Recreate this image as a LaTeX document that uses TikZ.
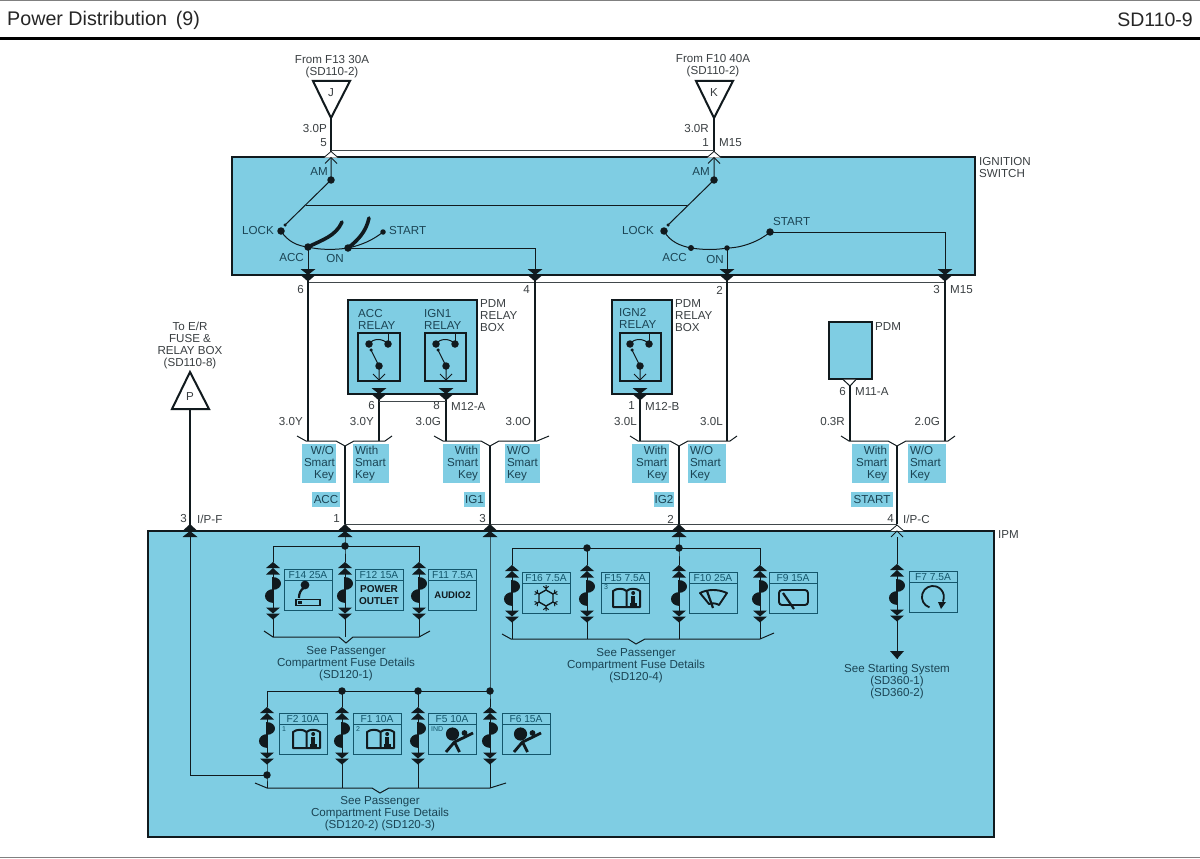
\documentclass[tikz,border=0pt]{standalone}
\usepackage{fontspec}
\setmainfont{Liberation Sans}
\definecolor{panel}{HTML}{7FCDE3}
\definecolor{ink}{HTML}{111A1E}
\definecolor{txt}{HTML}{3A3F42}
\definecolor{btxt}{HTML}{1B4454}
\definecolor{cellc}{HTML}{14566B}
\tikzset{
  lbl/.style={text=txt,inner sep=0pt,font=\fontsize{11.6}{12}\selectfont,align=center},
  blbl/.style={lbl,text=btxt},
  panelbox/.style={draw=ink,fill=panel,line width=2.2pt,inner sep=0pt,outer sep=0pt},
  wire/.style={draw=ink,line width=2pt},
  twire/.style={draw=ink,line width=1pt},
  conn/.style={draw=ink!80,line width=.9pt},
  dot/.style={circle,fill=ink,inner sep=0pt,outer sep=0pt,minimum size=#1},
  dot/.default=7.5pt,
  tagst/.style={fill=panel,text=btxt,inner sep=2pt,minimum height=39pt,font=\fontsize{11.6}{12}\selectfont},
  nametag/.style={fill=panel,text=btxt,inner sep=0pt,minimum height=15pt,font=\fontsize{11.6}{12}\selectfont},
  cell/.style={draw=cellc,line width=1pt,inner sep=0pt,outer sep=0pt,minimum width=48pt,minimum height=41pt},
  flbl/.style={text=cellc,inner sep=0pt,font=\fontsize{10.2}{11}\selectfont},
  pinD/.pic={\fill[ink] (-7.5,-6)--(7.5,-6)--(0,0)--cycle; \fill[ink] (-7.5,0)--(7.5,0)--(0,6.5)--cycle;},
  pinU/.pic={\fill[ink] (-7.5,0)--(7.5,0)--(0,-7)--cycle; \fill[ink] (-7.5,6)--(7.5,6)--(0,0)--cycle;},
  pinO/.pic={\filldraw[draw=ink,fill=white,line width=.8pt] (-7,0)--(0,-6)--(7,0); \draw[ink,line width=1pt] (-6,6)--(0,0)--(6,6);},
  veeD/.pic={\draw[ink,line width=1pt] (-6,-6)--(0,0)--(6,-6);},
  fusesym/.pic={
    \fill[ink] (-7,6)--(7,6)--(0,0)--cycle; \fill[ink] (-7,12.5)--(7,12.5)--(0,6)--cycle;
    \draw[ink,line width=1pt] (0,12)--(0,15) (0,40)--(0,46);
    \fill[ink] (-.6,14.5) .. controls (11,14.5) and (11,27.5) .. (-.6,27.5) -- cycle;
    \fill[ink] (.6,27) .. controls (-11,27) and (-11,40.5) .. (.6,40.5) -- cycle;
    \fill[ink] (-7,45.5)--(7,45.5)--(0,51.5)--cycle; \fill[ink] (-7,51.5)--(7,51.5)--(0,57.5)--cycle;},
  bookicon/.pic={
    \draw[ink,line width=2pt,line join=round] (1.5,9)--(-12,9)--(-12,-7) .. controls (-8,-10) and (-2,-10) .. (1.5,-7) -- (1.5,9)--(15,9)--(15,-7) .. controls (11,-10) and (5,-10) .. (1.5,-7);
    \fill[ink] (8.2,-5) circle (2);
    \fill[ink] (6,-2) rectangle (10.4,7);
    \fill[ink] (5,5) rectangle (11.5,7.5);},
  manicon/.pic={
    \fill[ink] (-5.5,-5) circle (6.6);
    \fill[ink] (6.5,-6) circle (2.9);
    \draw[ink,line width=2.8pt] (7,-2)--(-3.5,3)--(-12,13) (-3.5,3)--(1.5,13) (7,-2)--(15,-6);},
  flakeicon/.pic={
    \draw[ink,line width=1.4pt] (0,-8)--(7,-4)--(7,4)--(0,8)--(-7,4)--(-7,-4)--cycle;
    \foreach \a in {30,90,150,210,270,330}{
      \draw[ink,line width=1pt] (\a:7.5)--(\a:13) (\a:9.5)--+(\a+50:3.5) (\a:9.5)--+(\a-50:3.5);}},
  wipericon/.pic={
    \draw[ink,line width=1.9pt,line join=round] (-13,-5) .. controls (-5,-9) and (5,-9) .. (14,-5) -- (6,7) .. controls (3,5) and (-1,5) .. (-4,6) -- cycle;
    \draw[ink,line width=2.2pt] (-6,-7)--(0,10);},
  rearicon/.pic={
    \draw[ink,line width=1.9pt,rounded corners=3pt] (-14,-8) rectangle (15,7);
    \draw[ink,line width=2.2pt] (-10,-5)--(1,11);},
  starticon/.pic={
    \draw[ink,line width=1.8pt] (-3.5,10.4) arc[start angle=108,end angle=385,radius=11];
    \fill[ink] (5,5)--(13,5)--(8,12)--cycle;},
  lightericon/.pic={
    \fill[ink] (-3,-10) circle (4.4);
    \draw[ink,line width=2.2pt] (-3,-8) .. controls (-8,-5) and (-9,-1) .. (-9,3);
    \draw[ink,line width=1.9pt] (-12,4.5) rectangle (12,10.5);
    \fill[ink] (-10,6) rectangle (-6,9);},
}
\newcommand\lab[6][lbl]{\node[#1,anchor=#5] (#2) at (#3,#4) {#6};}
\newcommand\tagb[5]{\node[tagst,text width=#3pt-4pt,align=#4] (#1) at (#2,463.5) {#5};}
\newcommand\nametag[4]{\node[nametag,minimum width=#3pt] (#1) at (#2,499.5) {#4};}
\newcommand\fusecell[4]{%
  \node[cell,anchor=north west] (#1) at (#2,#3) {};
  \draw[cellc,line width=1pt] ([yshift=-11pt]#1.north west)--([yshift=-11pt]#1.north east);
  \node[flbl] (#1-l) at ([yshift=-6pt]#1.north) {#4};}
\newcommand\fuse[3]{%
  \coordinate (#1-t) at (#2,#3);
  \coordinate (#1-b) at (#2,#3+57);
  \pic at (#1-t) {fusesym};}
\newcommand\splitter[8]{%
  \draw[twire] (#2,436)--(#3,441)--(#4-9,441)--(#4,446)--(#4+9,441)--(#5,441)--(#6,436);
  \coordinate (#1-c) at (#4,446);
  \coordinate (#1-p) at (#4,#7);
  \coordinate (#1-l) at (#8,441);}
\newcommand\relay[4]{%
  \node[draw=ink,line width=1.8pt,inner sep=0pt,outer sep=0pt,minimum width=#2pt,minimum height=48pt] (#1) at (#3,357) {};
  \node[dot] (#1-a) at (#4-10,344) {};
  \node[dot] (#1-b) at (#4+9,344) {};
  \node[dot] (#1-c) at (#4,366) {};
  \node[dot=3.5pt] (#1-d) at (#4-8,350) {};
  \draw[twire] (#1-a.center) .. controls (#4-6,338) and (#4+4,338) .. (#1-b.center);
  \draw[twire] (#1-b.center)--(#4+9,333);
  \draw[twire] (#1-d.center)--(#1-c.center)--(#4,380);
  \pic at (#4,380) {veeD};
  \pic at (#4,394) {pinD};}
\begin{document}
\begin{tikzpicture}[x=1pt,y=-1pt]
\useasboundingbox (0,0) rectangle (1200,859);
\fill[white] (0,0) rectangle (1200,859);
% page frame
\coordinate (hl) at (0,0); \coordinate (hr) at (1200,0);
\coordinate (ml) at (0,38.5); \coordinate (mr) at (1200,38.5);
\coordinate (bl) at (0,857.5); \coordinate (br) at (1200,857.5);
\draw[gray,line width=1.4pt] (hl)--(hr);
\draw[black,line width=3pt] (ml)--(mr);
\draw[gray,line width=1.2pt] (bl)--(br);
\node[text=black!85,inner sep=0pt,anchor=west,font=\fontsize{19.7}{20}\selectfont] (title) at (7,20) {Power Distribution\, (9)};
\node[text=black!85,inner sep=0pt,anchor=east,font=\fontsize{19.5}{20}\selectfont] (pageno) at (1193,20) {SD110-9};
% boxes
\node[panelbox,minimum width=743pt,minimum height=118pt,anchor=north west] (ign) at (232,157) {};
\node[panelbox,minimum width=846pt,minimum height=306pt,anchor=north west] (ipm) at (148,531) {};
\node[panelbox,minimum width=129pt,minimum height=94pt,anchor=north west] (rb1) at (348,300) {};
\node[panelbox,minimum width=60pt,minimum height=94pt,anchor=north west] (rb2) at (612,300) {};
\node[panelbox,minimum width=43pt,minimum height=57pt,anchor=north west] (pdm) at (829,322) {};
% source triangles
\draw[ink,line width=2pt,line join=miter] (313,81)--(350,81)--(331,118)--cycle;
\draw[ink,line width=2pt,line join=miter] (696,81)--(733,81)--(714,118)--cycle;
\draw[ink,line width=2pt,line join=miter] (172,409)--(209,409)--(190,372)--cycle;
\coordinate (jb) at (331,118); \coordinate (kb) at (714,118);
\coordinate (jp) at (331,152); \coordinate (kp) at (714,152);
\coordinate (jc) at (331,150); \coordinate (kc) at (714,150);
\draw[wire] (jb)--(jp); \draw[wire] (kb)--(kp);
\draw[conn] (jc)--(kc);
\pic at (331,157.5) {pinO}; \pic at (714,157.5) {pinO};
% switch 1
\node[dot] (am1) at (331,180) {};
\node[dot] (lock1) at (281,231) {};
\node[dot] (acc1) at (308,247) {};
\node[dot] (on1) at (348,248) {};
\node[dot=5.5pt] (start1) at (383,232) {};
\node[dot=3.5pt] (arm1) at (285,225) {};
\coordinate (amt1) at (331,158);
\draw[twire] (amt1)--(am1.center)--(arm1.center);
\draw[twire] (lock1.center) .. controls (288,242) and (298,246) .. (acc1.center) .. controls (320,250) and (335,250) .. (on1.center) .. controls (362,245) and (373,240) .. (start1.center);
\draw[ink,line width=3.6pt,line cap=round] (acc1.center) .. controls (322,240) and (336,236) .. (342,222);
\draw[ink,line width=3.6pt,line cap=round] (on1.center) .. controls (358,240) and (366,232) .. (369,218);
% switch 2
\node[dot] (am2) at (714,180) {};
\node[dot] (lock2) at (664,231) {};
\node[dot=6pt] (acc2) at (691,248) {};
\node[dot=5.5pt] (on2) at (727,248) {};
\node[dot] (start2) at (770,232) {};
\node[dot=3.5pt] (arm2) at (668,225) {};
\coordinate (amt2) at (714,158);
\draw[twire] (amt2)--(am2.center)--(arm2.center);
\draw[twire] (lock2.center) .. controls (670,242) and (681,246) .. (acc2.center) .. controls (704,250) and (716,250) .. (on2.center) .. controls (742,248) and (760,241) .. (start2.center);
\coordinate (linkL) at (306,205); \coordinate (linkR) at (687,205);
\draw[twire] (linkL)--(linkR);
% switch outputs
\coordinate (o1) at (308,275); \coordinate (o2) at (535,275); \coordinate (o3) at (727,275); \coordinate (o4) at (945,275);
\coordinate (o1e) at (308,441); \coordinate (o2e) at (535,441); \coordinate (o3e) at (727,441); \coordinate (o4e) at (945,441);
\coordinate (onc) at (535,248); \coordinate (stc) at (945,232);
\draw[twire] (acc1.center)--(o1);
\draw[twire] (on1.center)--(onc)--(o2);
\draw[twire] (on2.center)--(o3);
\draw[twire] (start2.center)--(stc)--(o4);
\draw[conn] (308,282)--(945,282);
\draw[wire] (o1)--(o1e); \draw[wire] (o2)--(o2e); \draw[wire] (o3)--(o3e); \draw[wire] (o4)--(o4e);
\foreach \x in {308,535,727,945}{\pic at (\x,275) {pinD};}
% relays
\relay{acc}{42}{379}{379}
\relay{ig1}{41}{445.5}{446}
\relay{ig2}{41}{640.5}{640}
\coordinate (r1o) at (379,394); \coordinate (r2o) at (446,394); \coordinate (r3o) at (640,394); \coordinate (r4o) at (850,386);
\coordinate (r1e) at (379,441); \coordinate (r2e) at (446,441); \coordinate (r3e) at (640,441); \coordinate (r4e) at (850,441);
\draw[wire] (r1o)--(r1e); \draw[wire] (r2o)--(r2e); \draw[wire] (r3o)--(r3e); \draw[wire] (r4o)--(r4e);
\coordinate (rj1) at (379,401); \coordinate (rj2) at (446,401);
\draw[conn] (rj1)--(rj2);
\draw[ink,line width=1pt,fill=white] (843,379.5)--(850,386)--(856,379.5);
% splits
\splitter{s1}{297}{306}{345}{385}{392}{524}{308}
\splitter{s2}{434}{443}{490}{537}{549}{524}{535}
\splitter{s3}{630}{638}{679}{730}{737}{524}{640}
\splitter{s4}{841}{849}{897}{948}{955}{524}{850}
\draw[wire] (s1-c)--(s1-p); \draw[wire] (s2-c)--(s2-p); \draw[wire] (s3-c)--(s3-p); \draw[wire] (s4-c)--(s4-p);
\coordinate (pP) at (190,409); \coordinate (pPe) at (190,526);
\draw[wire] (pP)--(pPe);
\draw[conn] (s1-p)--(s4-p);
\pic at (190,531) {pinU}; \pic at (345,531) {pinU}; \pic at (490,531) {pinU}; \pic at (679,531) {pinU};
\pic at (897,531) {pinO};
% tags
\tagb{t1}{319}{34}{right}{W/O\\Smart\\Key}
\tagb{t2}{371}{36}{left}{With\\Smart\\Key}
\tagb{t3}{461.5}{37}{right}{With\\Smart\\Key}
\tagb{t4}{522.5}{35}{left}{W/O\\Smart\\Key}
\tagb{t5}{650.5}{37}{right}{With\\Smart\\Key}
\tagb{t6}{707}{38}{left}{W/O\\Smart\\Key}
\tagb{t7}{870.5}{37}{right}{With\\Smart\\Key}
\tagb{t8}{927}{38}{left}{W/O\\Smart\\Key}
\nametag{n1}{326}{28}{ACC}
\nametag{n2}{474.5}{21}{IG1}
\nametag{n3}{664}{20}{IG2}
\nametag{n4}{872}{42}{START}
% fuses group 1
\coordinate (g1s) at (345,537);
\node[dot] (g1d) at (345,546) {};
\coordinate (g1l) at (273,546); \coordinate (g1r) at (419,546);
\fuse{f14}{273}{562} \fuse{f12}{345}{562} \fuse{f11}{419}{562}
\draw[twire] (g1s)--(g1d.center)--(f12-t);
\draw[twire] (f14-t)--(g1l)--(g1r)--(f11-t);
\coordinate (f14e) at (273,637); \coordinate (f12e) at (345,637); \coordinate (f11e) at (419,637);
\draw[twire] (f14-b)--(f14e); \draw[twire] (f12-b)--(f12e); \draw[twire] (f11-b)--(f11e);
\draw[twire] (264,631)--(273,637)--(339,637)--(346,643)--(353,637)--(419,637)--(430,631);
\fusecell{c14}{284}{569}{F14 25A}
\fusecell{c12}{355}{569}{F12 15A}
\fusecell{c11}{428.5}{569}{F11 7.5A}
\pic at ([yshift=-26pt]c14.north) {lightericon};
\node[inner sep=0pt,text=ink,align=center,font=\bfseries\fontsize{10}{11.5}\selectfont] (c12t) at ([yshift=-26pt]c12.north) {POWER\\OUTLET};
\node[inner sep=0pt,text=ink,font=\bfseries\fontsize{9.6}{11}\selectfont] (c11t) at ([yshift=-26pt]c11.north) {AUDIO2};
\node[blbl] (d1) at (346,664) {See Passenger\\Compartment Fuse Details\\(SD120-1)};
% fuses group 2
\coordinate (g2s) at (679,537);
\node[dot] (g2d) at (679,548) {};
\node[dot] (g2e) at (587,548) {};
\coordinate (g2l) at (512,548); \coordinate (g2r) at (760,548);
\fuse{f16}{512}{565} \fuse{f15}{587}{565} \fuse{f10}{679}{565} \fuse{f9}{760}{565}
\draw[twire] (g2s)--(g2d.center)--(f10-t);
\draw[twire] (f16-t)--(g2l)--(g2r)--(f9-t);
\draw[twire] (g2e.center)--(f15-t);
\coordinate (f16e) at (512,639); \coordinate (f15e) at (587,639); \coordinate (f10e) at (679,639); \coordinate (f9e) at (760,639);
\draw[twire] (f16-b)--(f16e); \draw[twire] (f15-b)--(f15e); \draw[twire] (f10-b)--(f10e); \draw[twire] (f9-b)--(f9e);
\draw[twire] (502,634)--(511,639)--(628,639)--(636,644)--(645,639)--(760,639)--(774,633);
\fusecell{c16}{522}{572}{F16 7.5A}
\fusecell{c15}{601}{572}{F15 7.5A}
\fusecell{c10}{689}{572}{F10 25A}
\fusecell{c9}{769}{572}{F9 15A}
\pic at ([yshift=-26pt]c16.north) {flakeicon};
\pic at ([yshift=-26pt]c15.north) {bookicon};
\pic at ([yshift=-26pt]c10.north) {wipericon};
\pic at ([yshift=-26pt]c9.north) {rearicon};
\node[flbl,anchor=west,font=\fontsize{7}{8}\selectfont] (c15n) at ([xshift=3pt,yshift=-15.5pt]c15.north west) {3};
\node[blbl] (d2) at (636,666) {See Passenger\\Compartment Fuse Details\\(SD120-4)};
% fuses group 3
\coordinate (g3s) at (490,537);
\node[dot] (g3a) at (490,691) {};
\node[dot] (g3b) at (418,691) {};
\node[dot] (g3c) at (342,691) {};
\coordinate (g3l) at (267,691);
\fuse{f2}{267}{707} \fuse{f1}{342}{707} \fuse{f5}{418}{707} \fuse{f6}{490}{707}
\draw[twire] (g3s)--(g3a.center)--(f6-t);
\draw[twire] (g3a.center)--(g3l)--(f2-t);
\draw[twire] (g3b.center)--(f5-t);
\draw[twire] (g3c.center)--(f1-t);
\node[dot] (g3p) at (267,775) {};
\coordinate (f2e) at (267,788); \coordinate (f1e) at (342,788); \coordinate (f5e) at (418,788); \coordinate (f6e) at (490,788);
\draw[twire] (f2-b)--(g3p.center)--(f2e); \draw[twire] (f1-b)--(f1e); \draw[twire] (f5-b)--(f5e); \draw[twire] (f6-b)--(f6e);
\draw[twire] (255,783)--(267,788)--(372,788)--(380,793)--(389,788)--(490,788)--(506,783);
\coordinate (pi) at (190,537); \coordinate (pic) at (190,775);
\draw[twire] (pi)--(pic)--(g3p.center);
\fusecell{c2}{279}{713}{F2 10A}
\fusecell{c1}{353}{713}{F1 10A}
\fusecell{c5}{428}{713}{F5 10A}
\fusecell{c6}{502}{713}{F6 15A}
\pic at ([yshift=-26pt,xshift=2pt]c2.north) {bookicon};
\pic at ([yshift=-26pt,xshift=2pt]c1.north) {bookicon};
\pic at ([yshift=-26pt,xshift=6pt]c5.north) {manicon};
\pic at ([yshift=-26pt]c6.north) {manicon};
\node[flbl,anchor=west,font=\fontsize{7}{8}\selectfont] (c2n) at ([xshift=3pt,yshift=-16pt]c2.north west) {1};
\node[flbl,anchor=west,font=\fontsize{7}{8}\selectfont] (c1n) at ([xshift=3pt,yshift=-16pt]c1.north west) {2};
\node[flbl,anchor=west,font=\fontsize{7}{8}\selectfont] (c5n) at ([xshift=3pt,yshift=-16pt]c5.north west) {IND};
\node[blbl] (d3) at (380,814) {See Passenger\\Compartment Fuse Details\\(SD120-2) (SD120-3)};
% starter
\coordinate (g4s) at (897,537);
\fuse{f7}{897}{564}
\draw[twire] (g4s)--(f7-t);
\coordinate (g4e) at (897,659);
\draw[twire] (f7-b)--(g4e);
\fill[ink] (890,651)--(904,651)--(g4e)--cycle;
\fusecell{c7}{909}{571}{F7 7.5A}
\pic at ([yshift=-26pt]c7.north) {starticon};
\node[blbl] (d4) at (897,681) {See Starting System\\(SD360-1)\\(SD360-2)};
% labels
\node[lbl] (l1) at (332,67) {From F13 30A\\(SD110-2)};
\node[lbl] (l2) at (713,66) {From F10 40A\\(SD110-2)};
\node[lbl] (lJ) at (331,93) {J};
\node[lbl] (lK) at (714,93) {K};
\node[lbl] (lP) at (190,397) {P};
\lab{a1}{327}{129}{east}{3.0P}
\lab{a2}{327}{143}{east}{5}
\lab{a3}{709}{129}{east}{3.0R}
\lab{a4}{709}{143}{east}{1}
\lab{a5}{719}{143}{west}{M15}
\lab[blbl]{b1}{328}{172}{east}{AM}
\lab[blbl]{b2}{710}{172}{east}{AM}
\lab[blbl]{b3}{274}{231}{east}{LOCK}
\lab[blbl]{b4}{654}{231}{east}{LOCK}
\lab[blbl]{b5}{389}{231}{west}{START}
\lab[blbl]{b6}{773}{222}{west}{START}
\lab[blbl]{b7}{304}{258}{east}{ACC}
\lab[blbl]{b8}{687}{258}{east}{ACC}
\lab[blbl]{b9}{335}{259}{center}{ON}
\lab[blbl]{b10}{715}{260}{center}{ON}
\node[lbl,anchor=west,align=left] (a6) at (979,167.5) {IGNITION\\SWITCH};
\lab{a7}{304}{290}{east}{6}
\lab{a8}{530}{290}{east}{4}
\lab{a9}{723}{290}{east}{2}
\lab{a10}{940}{290}{east}{3}
\lab{a11}{950}{290}{west}{M15}
\node[blbl,anchor=west,align=left] (r1) at (358,319) {ACC\\RELAY};
\node[blbl,anchor=west,align=left] (r2) at (424,319) {IGN1\\RELAY};
\node[blbl,anchor=west,align=left] (r3) at (619,318) {IGN2\\RELAY};
\node[lbl,anchor=west,align=left] (r4) at (480,316) {PDM\\RELAY\\BOX};
\node[lbl,anchor=west,align=left] (r5) at (675,316) {PDM\\RELAY\\BOX};
\lab{r6}{875}{327}{west}{PDM}
\lab{c01}{375}{406}{east}{6}
\lab{c02}{440}{406}{east}{8}
\lab{c03}{451}{406}{west}{M12-A}
\lab{c04}{635}{406}{east}{1}
\lab{c05}{645}{406}{west}{M12-B}
\lab{c06}{846}{392}{east}{6}
\lab{c07}{855}{392}{west}{M11-A}
\lab{c08}{303}{422}{east}{3.0Y}
\lab{c09}{374}{422}{east}{3.0Y}
\lab{c010}{441}{422}{east}{3.0G}
\lab{c011}{531}{422}{east}{3.0O}
\lab{c012}{637}{422}{east}{3.0L}
\lab{c013}{723}{422}{east}{3.0L}
\lab{c014}{845}{422}{east}{0.3R}
\lab{c015}{940}{422}{east}{2.0G}
\lab{e1}{340}{519}{east}{1}
\lab{e2}{486}{519}{east}{3}
\lab{e3}{674}{519}{east}{2}
\lab{e4}{894}{519}{east}{4}
\lab{e5}{903}{519}{west}{I/P-C}
\lab{e6}{187}{519}{east}{3}
\lab{e7}{197}{519}{west}{I/P-F}
\lab{e8}{998}{535}{west}{IPM}
\node[lbl] (e9) at (190,345) {To E/R\\FUSE \&\\RELAY BOX\\(SD110-8)};
\end{tikzpicture}
\end{document}
